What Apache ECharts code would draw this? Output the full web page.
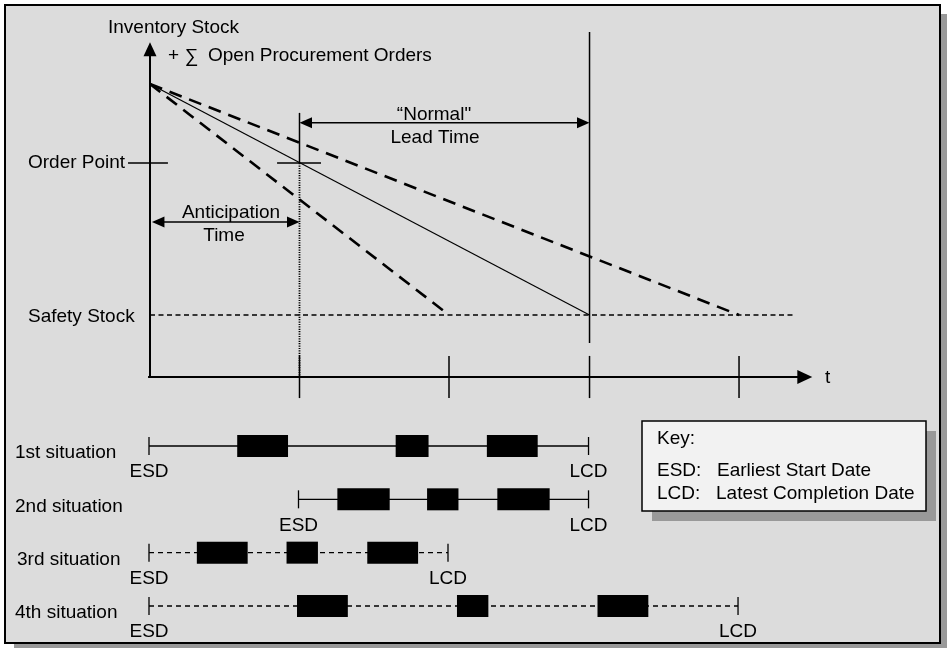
<!DOCTYPE html>
<html><head><meta charset="utf-8">
<script src="https://cdn.jsdelivr.net/npm/echarts@6/dist/echarts.min.js"></script>
<style>html,body{margin:0;padding:0;background:#fff}#c{width:947px;height:648px}</style>
</head><body><div id="c"></div>
<script>
// ---------------- data ----------------
const timeTicks = [10, 20, 29.4, 39.4];
const stockStart = 94.5;
const orderPoint = 69;
const safetyStock = 20;
const orderTime = 10;
const fastEnd = 20;
const normalEnd = 29.4;
const slowEnd = 39.4;
const safetyLineEnd = 43;
const xAxisEnd = 44.3;
const yAxisTop = 108;
const leadArrowLevel = 82;
const anticipationLevel = 50;
const leadMarkTop = 85.2;
const normalVerticalTop = 111.3;
const normalVerticalBottom = 11;

const situationNames = ['1st situation', '2nd situation', '3rd situation', '4th situation'];
const situationESD = [0, 10, 0, 0];
const situationLCD = [29.4, 29.4, 20, 39.4];
const situationDashed = [false, false, true, true];
const situationBars = [
  [[5.9, 9.3], [16.5, 18.7], [22.6, 26.0]],
  [[12.6, 16.1], [18.6, 20.7], [23.3, 26.8]],
  [[3.2, 6.6], [9.2, 11.3], [14.6, 18.0]],
  [[9.9, 13.3], [20.6, 22.7], [30.0, 33.4]]
];

const keyLines = [['ESD:', 'Earliest Start Date'], ['LCD:', 'Latest Completion Date']];

// ---------------- helpers ----------------
const FONT = '19px "Liberation Sans", Arial, sans-serif';
const TICK_HALF = 6.8;

function segRender(style) {
  return function (params, api) {
    const a = api.coord([api.value(0), api.value(1)]);
    const b = api.coord([api.value(2), api.value(3)]);
    return { type: 'line', shape: { x1: a[0], y1: a[1], x2: b[0], y2: b[1] },
      style: Object.assign({ stroke: '#000', fill: null }, style) };
  };
}
function arrowRender(opt) {
  return function (params, api) {
    const a = api.coord([api.value(0), api.value(1)]);
    const b = api.coord([api.value(2), api.value(3)]);
    const dx = b[0] - a[0], dy = b[1] - a[1], L = Math.hypot(dx, dy);
    const ux = dx / L, uy = dy / L, nx = -uy, ny = ux;
    const kids = [];
    let s = a.slice(), e = b.slice();
    function head(tip, d) {
      const bx = tip[0] - d[0] * opt.len, by = tip[1] - d[1] * opt.len;
      return { type: 'polygon', shape: { points: [[tip[0], tip[1]], [bx + nx * opt.half, by + ny * opt.half], [bx - nx * opt.half, by - ny * opt.half]] },
        style: { fill: '#000' } };
    }
    if (opt.start) { kids.push(head(a, [-ux, -uy])); s = [a[0] + ux * opt.len * 0.8, a[1] + uy * opt.len * 0.8]; }
    if (opt.end) { kids.push(head(b, [ux, uy])); e = [b[0] - ux * opt.len * 0.8, b[1] - uy * opt.len * 0.8]; }
    kids.unshift({ type: 'line', shape: { x1: s[0], y1: s[1], x2: e[0], y2: e[1] }, style: { stroke: '#000', lineWidth: opt.width } });
    return { type: 'group', children: kids };
  };
}
function txt(text, x, y, align, extra) {
  return Object.assign({ type: 'text', z: 20, style: { text: text, x: x, y: y, font: FONT, fill: '#000',
    align: align || 'left', textAlign: align || 'left', verticalAlign: 'middle', textVerticalAlign: 'middle' } }, extra || {});
}

// ---------------- series ----------------
const thinSegments = [
  [normalEnd, normalVerticalTop, normalEnd, normalVerticalBottom],
  [orderTime, leadMarkTop, orderTime, orderPoint],
  [-1.47, orderPoint, 1.2, orderPoint],
  [8.5, orderPoint, 11.44, orderPoint]
].concat(timeTicks.map(t => [t, TICK_HALF, t, -TICK_HALF]));

const situationRows = situationNames.map((n, i) => [situationESD[i], i + 1, situationLCD[i], i]);
const barData = [];
situationBars.forEach((bars, i) => bars.forEach(b => barData.push([b[0], i + 1, b[1]])));

const series = [
  { type: 'line', xAxisIndex: 0, yAxisIndex: 0, data: [[0, stockStart], [normalEnd, safetyStock]], symbol: 'none', clip: false,
    lineStyle: { color: '#000', width: 1.2 } },
  { type: 'line', xAxisIndex: 0, yAxisIndex: 0, data: [[0, stockStart], [fastEnd, safetyStock]], symbol: 'none', clip: false,
    lineStyle: { color: '#000', width: 2.6, type: [13, 8] } },
  { type: 'line', xAxisIndex: 0, yAxisIndex: 0, data: [[0, stockStart], [slowEnd, safetyStock]], symbol: 'none', clip: false,
    lineStyle: { color: '#000', width: 2.6, type: [13, 8] } },
  { type: 'line', xAxisIndex: 0, yAxisIndex: 0, data: [[0, safetyStock], [safetyLineEnd, safetyStock]], symbol: 'none', clip: false,
    lineStyle: { color: '#000', width: 1.6, type: [5, 3.5] } },
  { type: 'custom', xAxisIndex: 0, yAxisIndex: 0, data: thinSegments, renderItem: segRender({ lineWidth: 1.5 }) },
  { type: 'custom', xAxisIndex: 0, yAxisIndex: 0, data: [[orderTime, orderPoint, orderTime, 0]],
    renderItem: segRender({ lineWidth: 1.8, lineDash: [1.2, 1.2] }) },
  { type: 'custom', xAxisIndex: 0, yAxisIndex: 0, data: [[0, 0, 0, yAxisTop]],
    renderItem: arrowRender({ width: 2, len: 14, half: 6.5, start: false, end: true }) },
  { type: 'custom', xAxisIndex: 0, yAxisIndex: 0, data: [[-0.13, 0, xAxisEnd, 0]],
    renderItem: arrowRender({ width: 1.8, len: 15, half: 7, start: false, end: true }) },
  { type: 'custom', xAxisIndex: 0, yAxisIndex: 0, data: [[orderTime, leadArrowLevel, normalEnd, leadArrowLevel], [0.13, anticipationLevel, orderTime, anticipationLevel]],
    renderItem: arrowRender({ width: 1.6, len: 12.5, half: 5.5, start: true, end: true }) },
  // situations
  { type: 'custom', xAxisIndex: 1, yAxisIndex: 1, data: situationRows,
    renderItem: function (params, api) {
      const i = api.value(3);
      const a = api.coord([api.value(0), api.value(1)]);
      const b = api.coord([api.value(2), api.value(1)]);
      const st = { stroke: '#000', lineWidth: 1.3, fill: null };
      if (situationDashed[i]) st.lineDash = [5, 4];
      return { type: 'group', children: [
        { type: 'line', shape: { x1: a[0], y1: a[1], x2: b[0], y2: b[1] }, style: st },
        { type: 'line', shape: { x1: a[0], y1: a[1] - 9, x2: a[0], y2: a[1] + 9 }, style: { stroke: '#000', lineWidth: 1.3 } },
        { type: 'line', shape: { x1: b[0], y1: b[1] - 9, x2: b[0], y2: b[1] + 9 }, style: { stroke: '#000', lineWidth: 1.3 } },
        txt('ESD', a[0], a[1] + 26, 'center'),
        txt('LCD', b[0], b[1] + 26, 'center'),
        txt(situationNames[i], i === 2 ? 17 : 15, a[1] + 7, 'left')
      ] };
    } },
  { type: 'custom', xAxisIndex: 1, yAxisIndex: 1, data: barData, z: 5,
    renderItem: function (params, api) {
      const a = api.coord([api.value(0), api.value(1)]);
      const b = api.coord([api.value(2), api.value(1)]);
      return { type: 'rect', shape: { x: a[0], y: a[1] - 11, width: b[0] - a[0], height: 22 }, style: { fill: '#000' } };
    } }
];
series.forEach(s => { s.silent = true; s.animation = false; });

const graphics = [
  { type: 'rect', z: -1, shape: { x: 14, y: 14, width: 933, height: 634 }, style: { fill: '#999999' } },
  { type: 'rect', z: -1, shape: { x: 5, y: 5, width: 935, height: 638 }, style: { fill: '#DCDCDC', stroke: '#000', lineWidth: 2 } },
  txt('Inventory Stock', 108, 28),
  txt('+', 168, 56),
  txt('\u2211', 185, 57, 'left', {}),
  txt('Open Procurement Orders', 208, 56),
  txt('\u201CNormal"', 434, 115, 'center'),
  txt('Lead Time', 435, 138, 'center'),
  txt('Anticipation', 231, 213, 'center'),
  txt('Time', 224, 236, 'center'),
  txt('Order Point', 28, 163),
  txt('Safety Stock', 28, 317),
  txt('t', 825, 378),
  { type: 'rect', z: 15, shape: { x: 652, y: 431, width: 284, height: 90 }, style: { fill: '#999999' } },
  { type: 'rect', z: 16, shape: { x: 642, y: 421, width: 284, height: 90 }, style: { fill: '#F2F2F2', stroke: '#000', lineWidth: 1.5 } },
  txt('Key:', 657, 439),
  txt(keyLines[0][0], 657, 471), txt(keyLines[0][1], 717, 471),
  txt(keyLines[1][0], 657, 494), txt(keyLines[1][1], 716, 494)
];

const chart = echarts.init(document.getElementById('c'), null, { renderer: 'canvas' });
chart.setOption({
  backgroundColor: '#ffffff',
  animation: false,
  grid: [
    { left: 150, top: 36, width: 747.5, height: 341 },
    { left: 149, top: 419.33, width: 747.5, height: 213.33 }
  ],
  xAxis: [
    { type: 'value', gridIndex: 0, min: 0, max: 50, show: false },
    { type: 'value', gridIndex: 1, min: 0, max: 50, show: false }
  ],
  yAxis: [
    { type: 'value', gridIndex: 0, min: 0, max: 110, show: false },
    { type: 'value', gridIndex: 1, min: 0.5, max: 4.5, inverse: true, show: false }
  ],
  graphic: graphics,
  series: series
});
</script></body></html>
